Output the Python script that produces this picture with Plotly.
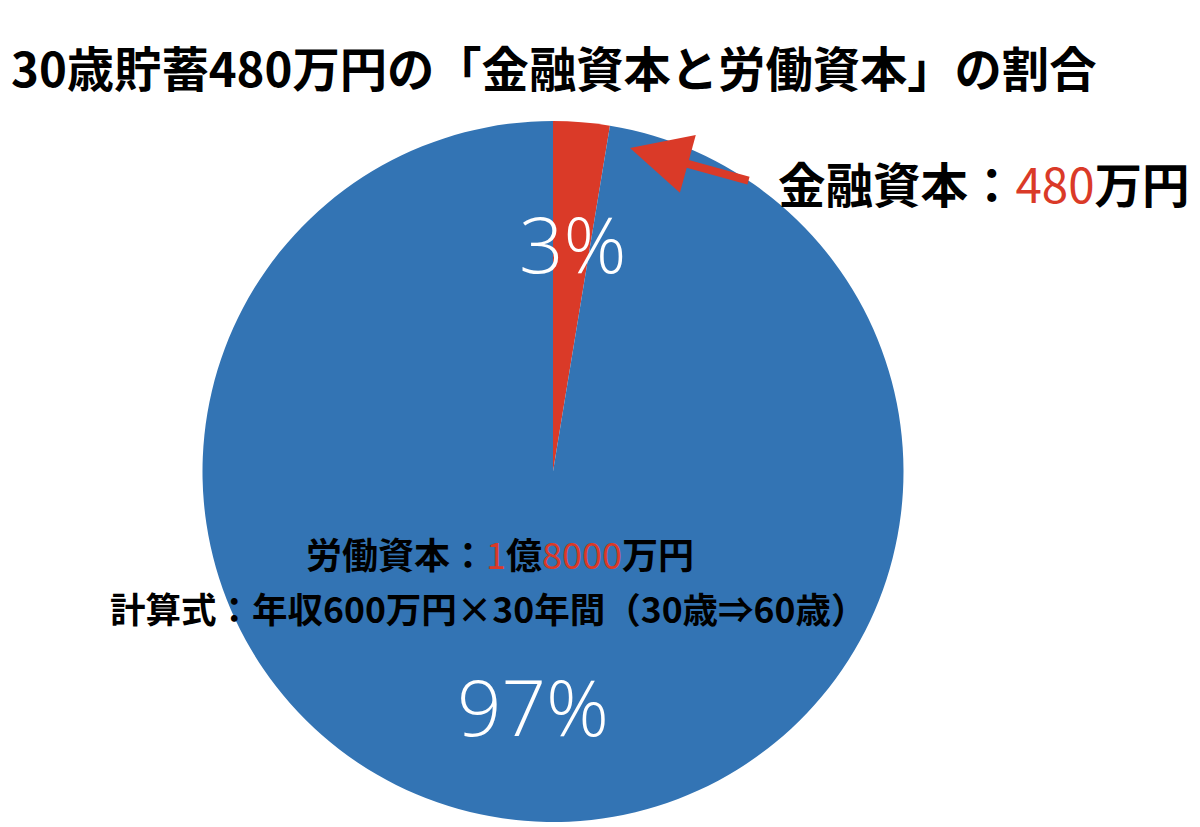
import plotly.graph_objects as go

# data
labels = ["金融資本", "労働資本"]
values = [480, 18000]          # 万円
colors = ["#DA3A28", "#3374B4"]

title_text = "30歳貯蓄480万円の「金融資本と労働資本」の割合"
fin_label = "金融資本："
fin_amount = "480"
labor_label = "労働資本："
formula = "計算式：年収600万円×30年間（30歳⇒60歳）"

W, H = 1200, 827
OFF = 8  # page body margin
def px(x): return (x - OFF) / W
def py(y): return 1 - (y - OFF) / H

total = sum(values)
pcts = [f"{round(v / total * 100)}%" for v in values]

CJK = "Noto Sans CJK JP"

fig = go.Figure(go.Pie(
    labels=labels, values=values,
    marker=dict(colors=colors, line=dict(width=0)),
    sort=False, direction="clockwise", rotation=0,
    textinfo="none", hoverinfo="label+value+percent",
    showlegend=False,
    domain=dict(x=[px(553 - 351), px(553 + 351)], y=[py(822), py(121)]),
))

ann = []
# title
ann.append(dict(text=title_text, x=px(9), y=py(67), xanchor="left", yanchor="middle",
                font=dict(family=CJK, size=47.3, color="black", weight="bold")))
# financial capital label
ann.append(dict(text=f"{fin_label}<span style='color:{colors[0]};font-weight:normal'>{fin_amount}</span>万円",
                x=px(776), y=py(183), xanchor="left", yanchor="middle",
                font=dict(family=CJK, size=47.5, color="black", weight="bold")))
# arrow
ann.append(dict(text="", x=px(630), y=py(148), xref="paper", yref="paper",
                showarrow=True, ax=120, ay=33, arrowhead=2, arrowsize=1.5,
                arrowwidth=8, arrowcolor=colors[0]))
# labor capital
ann.append(dict(text=f"{labor_label}<span style='color:{colors[0]};font-weight:normal'>1</span>億"
                     f"<span style='color:{colors[0]};font-weight:normal'>8000</span>万円",
                x=px(500), y=py(553), xanchor="center", yanchor="middle",
                font=dict(family=CJK, size=36, color="black", weight="bold")))
ann.append(dict(text=formula, x=px(488), y=py(607), xanchor="center", yanchor="middle",
                font=dict(family=CJK, size=35.5, color="black", weight="bold")))
# percents
ann.append(dict(text=pcts[0], x=px(572), y=py(243), xanchor="center", yanchor="middle",
                font=dict(family="Open Sans", size=78, color="white", weight=300)))
ann.append(dict(text=pcts[1], x=px(533), y=py(706), xanchor="center", yanchor="middle",
                font=dict(family="Open Sans", size=78, color="white", weight=300)))

for a in ann:
    a.setdefault("showarrow", False)
    a.setdefault("xref", "paper")
    a.setdefault("yref", "paper")

fig.update_layout(
    width=W, height=H,
    margin=dict(l=0, r=0, t=0, b=0),
    paper_bgcolor="white", plot_bgcolor="white",
    annotations=ann,
)

fig.write_html("out.html")
